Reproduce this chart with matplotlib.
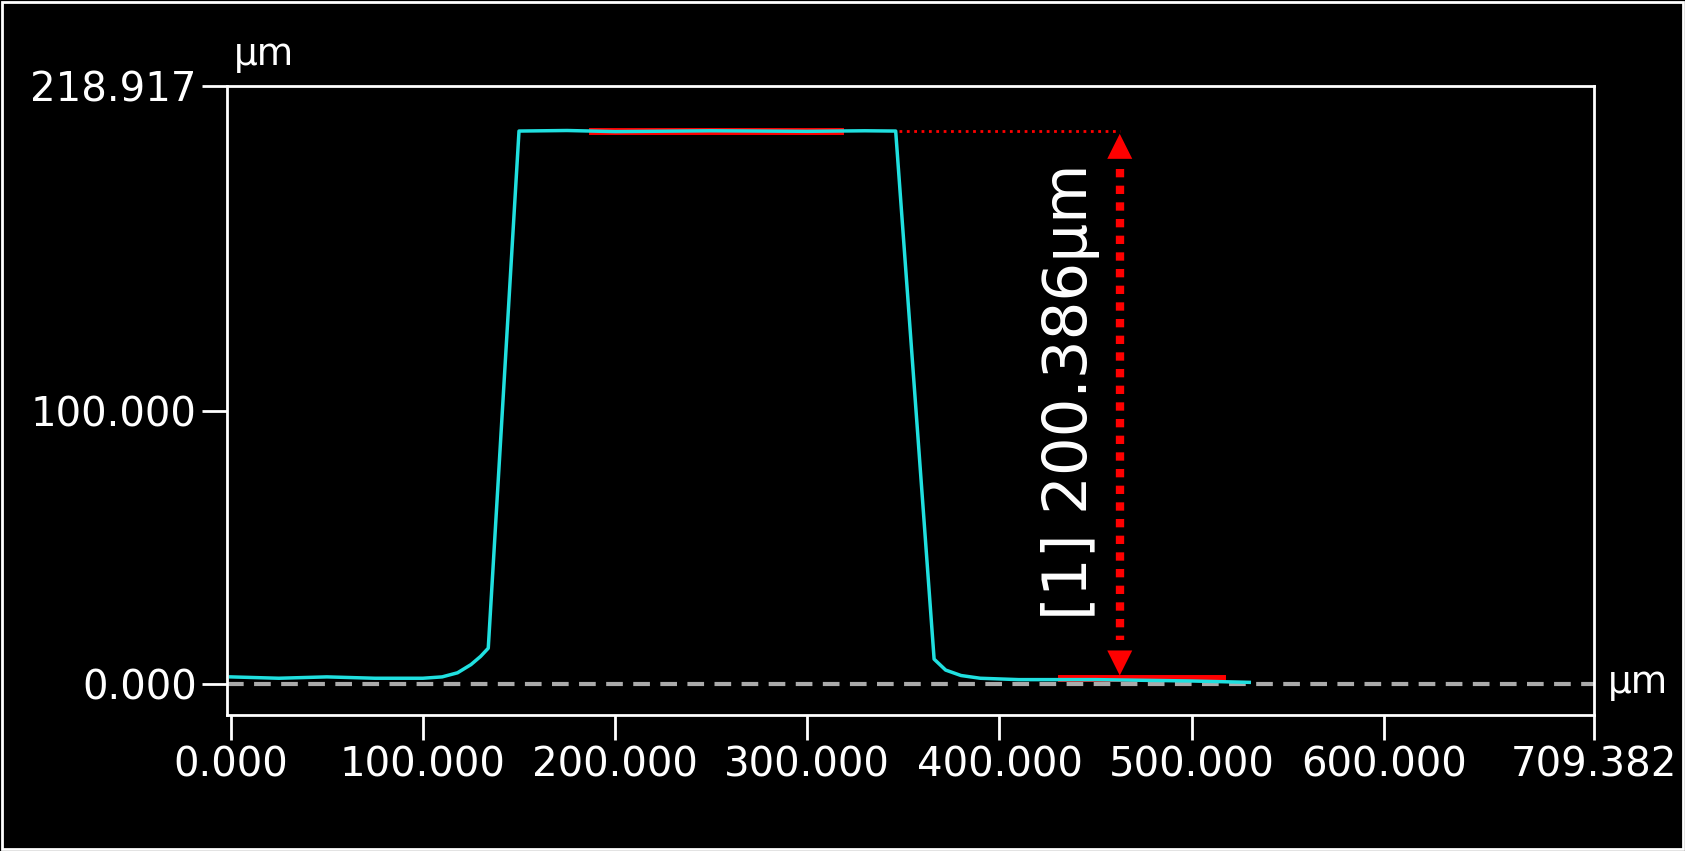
import numpy as np
import matplotlib.pyplot as plt

# profile data (um)
prof_x = [0, 25, 50, 75, 100, 110, 118, 125, 130, 134, 150, 175, 200, 250, 300, 330, 346,
          366, 372, 380, 390, 410, 450, 500, 530]
prof_y = [2.5, 2.0, 2.5, 2.0, 2.0, 2.5, 4.0, 7.0, 10.0, 13.0, 202.4, 202.6, 202.2, 202.5,
          202.3, 202.5, 202.4, 9.0, 5.0, 3.0, 2.0, 1.5, 1.5, 1.0, 0.5]
top_ref = [188, 317]
base_ref = [432, 516]
top_level = 202.4
base_level = 2.0
meas_x = 462.6
label = "[1] 200.386μm"
xticks = [0, 100, 200, 300, 400, 500, 600, 709.382]
yticks = [0, 100, 218.917]

fig = plt.figure(figsize=(16.85, 8.51), dpi=100, facecolor='black')
ax = fig.add_axes([0.135, 0.16, 0.811, 0.739], facecolor='black')
fs = 29

ax.axhline(0, color='#aaaaaa', lw=3, ls=(0, (4, 2.5)), zorder=1)
ax.plot(top_ref, [top_level] * 2, color='red', lw=5, zorder=2)
ax.plot(base_ref, [base_level] * 2, color='red', lw=5, zorder=2)
ax.plot(prof_x, prof_y, color='#20e0e0', lw=2.5, zorder=3)
ax.plot([347.7, meas_x], [top_level] * 2, color='red', lw=2, ls=':', zorder=2)
ax.plot([meas_x, meas_x], [top_level - 14, base_level + 14], color='red', lw=6, ls=(0, (1, 1)))
ax.annotate('', xy=(meas_x, top_level), xytext=(meas_x, top_level - 20),
            arrowprops=dict(arrowstyle='-|>', color='red', lw=0, mutation_scale=45))
ax.annotate('', xy=(meas_x, base_level), xytext=(meas_x, base_level + 20),
            arrowprops=dict(arrowstyle='-|>', color='red', lw=0, mutation_scale=45))
ax.text(437, 107, label, rotation=90, color='white', fontsize=44, ha='center', va='center')

ax.set_xlim(-1.7, 709.382)
ax.set_ylim(-11.4, 218.917)
ax.set_xticks(xticks)
ax.set_xticklabels(['%.3f' % v for v in xticks])
ax.set_yticks(yticks)
ax.set_yticklabels(['%.3f' % v for v in yticks])
ax.tick_params(colors='white', labelcolor='white', labelsize=fs, length=18, width=2, pad=4)
for s in ax.spines.values():
    s.set_color('white')
    s.set_linewidth(2)
ax.text(0.005, 1.02, 'μm', transform=ax.transAxes, color='white', fontsize=fs - 2, ha='left', va='bottom')
ax.text(1.01, 0.05, 'μm', transform=ax.transAxes, color='white', fontsize=fs - 2, ha='left', va='center')

fig.patches.append(plt.Rectangle((0.001, 0.002), 0.998, 0.996, transform=fig.transFigure,
                                 fill=False, edgecolor='white', lw=2))
fig.savefig('out.png', facecolor='black')
